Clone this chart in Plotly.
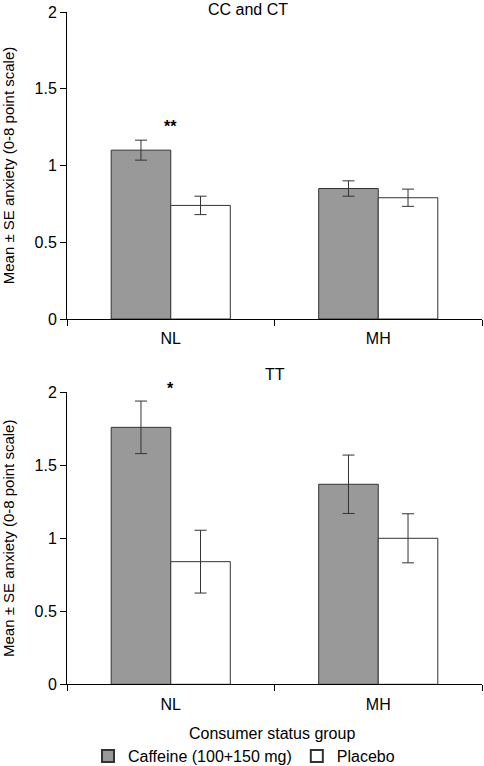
import plotly.graph_objects as go
from plotly.subplots import make_subplots

groups = ["NL", "MH"]
top_caffeine = [1.10, 0.85]
top_caffeine_se = [0.065, 0.05]
top_placebo = [0.74, 0.79]
top_placebo_se = [0.06, 0.056]
bot_caffeine = [1.76, 1.37]
bot_caffeine_se = [0.18, 0.20]
bot_placebo = [0.84, 1.00]
bot_placebo_se = [0.215, 0.168]
y_ticks = [0, 0.5, 1, 1.5, 2]
y_ticktext = ["0", "0.5", "1", "1.5", "2"]

FONT = "Liberation Sans, Arial, sans-serif"
GRAY = "#999999"
EDGE = "#333333"

fig = make_subplots(rows=2, cols=1)

def add_pair(row, caf, caf_se, pla, pla_se, show):
    fig.add_trace(go.Bar(x=groups, y=caf, name="Caffeine (100+150 mg)",
                         marker=dict(color=GRAY, line=dict(color=EDGE, width=1)),
                         error_y=dict(type="data", array=caf_se, color=EDGE, thickness=1, width=6),
                         showlegend=show), row=row, col=1)
    fig.add_trace(go.Bar(x=groups, y=pla, name="Placebo",
                         marker=dict(color="white", line=dict(color=EDGE, width=1)),
                         error_y=dict(type="data", array=pla_se, color=EDGE, thickness=1, width=6),
                         showlegend=show), row=row, col=1)

add_pair(1, top_caffeine, top_caffeine_se, top_placebo, top_placebo_se, True)
add_pair(2, bot_caffeine, bot_caffeine_se, bot_placebo, bot_placebo_se, False)

W = 484
H = 766
L = 67
PLOT_RIGHT = 482
R = W - PLOT_RIGHT
pw = PLOT_RIGHT - L

def py(page_y):
    return 1 - page_y / H

def pxx(page_x):
    return (page_x - L) / pw

yaxis_common = dict(range=[0, 2], tickvals=y_ticks, ticktext=y_ticktext,
                    showline=True, linecolor="black", linewidth=1,
                    ticks="outside", ticklen=6, tickcolor="black",
                    showgrid=False, zeroline=False, automargin=False,
                    tickfont=dict(family=FONT, size=16, color="black"),
                    title=dict(text="Mean ± SE anxiety (0-8 point scale)",
                               font=dict(family=FONT, size=15, color="black"), standoff=21))
xaxis_common = dict(showline=True, linecolor="black", linewidth=1,
                    ticks="outside", ticklen=6, tickcolor="black", tickson="boundaries",
                    showgrid=False, automargin=False, ticklabelstandoff=5,
                    tickfont=dict(family=FONT, size=16, color="black"))

fig.update_layout(
    width=W, height=H,
    margin=dict(l=L, r=R, t=0, b=0, autoexpand=False),
    paper_bgcolor="white", plot_bgcolor="white",
    barmode="group", bargap=0.426, bargroupgap=0,
    font=dict(family=FONT, size=16, color="black"),
    xaxis=dict(domain=[0, 1], **xaxis_common),
    xaxis2=dict(domain=[0, 1], **xaxis_common),
    yaxis=dict(domain=[py(319), py(12)], **yaxis_common),
    yaxis2=dict(domain=[py(684.3), py(392.3)], **yaxis_common),
    legend=dict(orientation="h", x=pxx(88), xanchor="left", y=py(756), yanchor="middle",
                font=dict(family=FONT, size=16, color="black"),
                itemsizing="constant", bgcolor="rgba(0,0,0,0)"),
    annotations=[
        dict(text="CC and CT", xref="paper", yref="paper", x=pxx(248), y=py(9),
             showarrow=False, font=dict(family=FONT, size=16), xanchor="center", yanchor="middle"),
        dict(text="TT", xref="paper", yref="paper", x=pxx(275), y=py(375),
             showarrow=False, font=dict(family=FONT, size=16), xanchor="center", yanchor="middle"),
        dict(text="<b>**</b>", xref="x", yref="paper", x="NL", y=py(126),
             showarrow=False, font=dict(family=FONT, size=16), xanchor="center", yanchor="middle"),
        dict(text="<b>*</b>", xref="x2", yref="paper", x="NL", y=py(388),
             showarrow=False, font=dict(family=FONT, size=16), xanchor="center", yanchor="middle"),
        dict(text="Consumer status group", xref="paper", yref="paper", x=pxx(272), y=py(733),
             showarrow=False, font=dict(family=FONT, size=16), xanchor="center", yanchor="middle"),
    ],
)

fig.write_html("out.html", config={"displayModeBar": False},
               post_script="document.body.style.margin='0';")
